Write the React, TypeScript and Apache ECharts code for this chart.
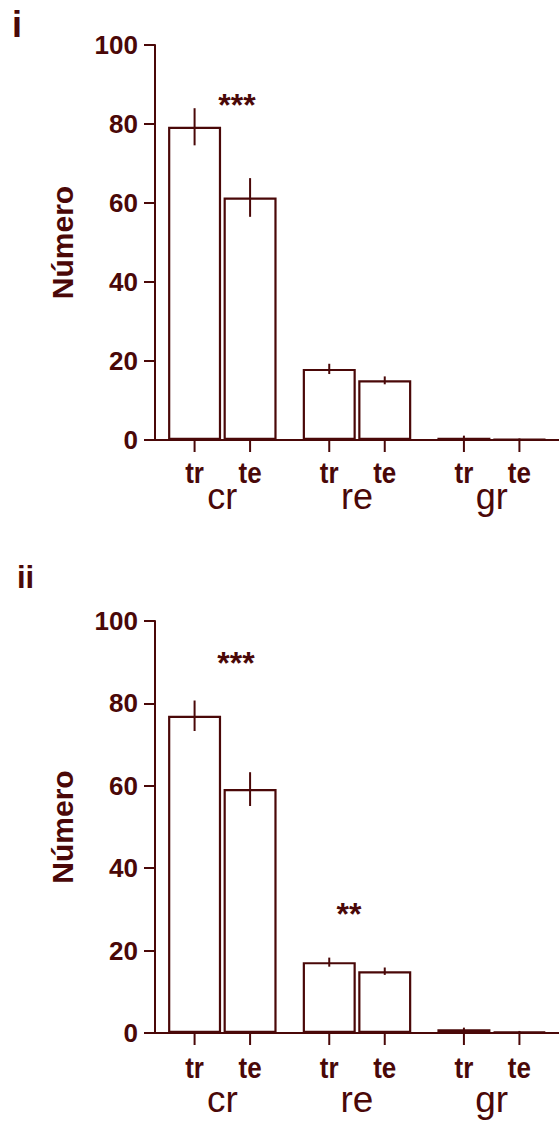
import React, { useEffect, useRef } from "react";
import * as echarts from "echarts";

// Groups along the x axis and the two bars inside each group
const categories = ["cr", "re", "gr"];
const subLabels = ["tr", "te"];
const yTicks = { min: 0, max: 100, interval: 20 };

// Panel i
const iTr = [79.3, 18.0, 0.6];
const iTe = [61.4, 15.1, 0.2];
const iTrErr = [4.7, 1.3, 0.5];
const iTeErr = [4.9, 1.0, 0.2];

// Panel ii
const iiTr = [77.0, 17.2, 0.9];
const iiTe = [59.2, 15.0, 0.3];
const iiTrErr = [3.7, 1.1, 0.4];
const iiTeErr = [4.1, 0.9, 0.2];

const INK = "#4a0808";
const FONT = "Liberation Sans, Arial, Helvetica, sans-serif";
const BAR_W = 53;
const BAR_GAP_PX = 2.5;

type Panel = {
  top: number;
  height: number;
  tr: number[];
  te: number[];
  trErr: number[];
  teErr: number[];
  subOffset: number;
  groupMargin: number;
  groupFont: number;
};

const panels: Panel[] = [
  { top: 45, height: 395, tr: iTr, te: iTe, trErr: iTrErr, teErr: iTeErr, subOffset: 33, groupMargin: 56, groupFont: 36 },
  { top: 621, height: 412, tr: iiTr, te: iiTe, trErr: iiTrErr, teErr: iiTeErr, subOffset: 35, groupMargin: 66, groupFont: 37 },
];

function errorItems(vals: number[], errs: number[], sub: number) {
  return vals.map((v, i) => [i, v, errs[i], sub]);
}

export default function App() {
  const ref = useRef<HTMLDivElement>(null);

  useEffect(() => {
    if (!ref.current) return;
    const chart = echarts.init(ref.current, null, { renderer: "svg" });

    const grid: any[] = [];
    const xAxis: any[] = [];
    const yAxis: any[] = [];
    const series: any[] = [];

    panels.forEach((p, k) => {
      grid.push({ left: 155, top: p.top, width: 407, height: p.height, containLabel: false });
      xAxis.push({
        type: "category",
        gridIndex: k,
        data: categories,
        axisLine: { show: true, lineStyle: { color: INK, width: 2 } },
        axisTick: { show: false },
        axisLabel: {
          color: INK,
          fontFamily: FONT,
          fontSize: p.groupFont,
          margin: p.groupMargin,
          verticalAlign: "middle",
        },
        splitLine: { show: false },
      });
      yAxis.push({
        type: "value",
        gridIndex: k,
        min: yTicks.min,
        max: yTicks.max,
        interval: yTicks.interval,
        name: "Número",
        nameLocation: "middle",
        nameRotate: 90,
        nameGap: 78,
        nameTextStyle: { color: INK, fontFamily: FONT, fontSize: 30, fontWeight: "bold" },
        axisLine: { show: true, lineStyle: { color: INK, width: 2 } },
        axisTick: { show: true, length: 11, lineStyle: { color: INK, width: 2 } },
        axisLabel: { color: INK, fontFamily: FONT, fontSize: 26, fontWeight: "bold", margin: 17 },
        splitLine: { show: false },
      });

      const barStyle = { color: "#ffffff", borderColor: INK, borderWidth: 2.2 };
      series.push({
        type: "bar",
        name: "tr",
        xAxisIndex: k,
        yAxisIndex: k,
        data: p.tr,
        barWidth: BAR_W,
        barGap: `${(BAR_GAP_PX / BAR_W) * 100}%`,
        itemStyle: barStyle,
        silent: true,
      });
      series.push({
        type: "bar",
        name: "te",
        xAxisIndex: k,
        yAxisIndex: k,
        data: p.te,
        barWidth: BAR_W,
        barGap: `${(BAR_GAP_PX / BAR_W) * 100}%`,
        itemStyle: barStyle,
        silent: true,
      });

      // Error bars, x-axis ticks and tr/te labels under each bar
      series.push({
        type: "custom",
        xAxisIndex: k,
        yAxisIndex: k,
        clip: false,
        z: 5,
        silent: true,
        data: [...errorItems(p.tr, p.trErr, 0), ...errorItems(p.te, p.teErr, 1)],
        renderItem: (_params: any, api: any) => {
          const ci = api.value(0);
          const v = api.value(1);
          const e = api.value(2);
          const s = api.value(3);
          const off = (s === 0 ? -1 : 1) * (BAR_W + BAR_GAP_PX) / 2;
          const hi = api.coord([ci, v + e]);
          const lo = api.coord([ci, Math.max(v - e, 0)]);
          const base = api.coord([ci, 0]);
          const x = hi[0] + off;
          return {
            type: "group",
            children: [
              {
                type: "line",
                shape: { x1: x, y1: hi[1], x2: x, y2: lo[1] },
                style: { stroke: INK, lineWidth: 2 },
              },
              {
                type: "line",
                shape: { x1: x, y1: base[1], x2: x, y2: base[1] + 12 },
                style: { stroke: INK, lineWidth: 2 },
              },
              {
                type: "text",
                x: x,
                y: base[1] + p.subOffset,
                scaleY: 1.1,
                style: {
                  text: subLabels[s],
                  fill: INK,
                  font: `bold 26px ${FONT}`,
                  align: "center",
                  verticalAlign: "middle",
                },
              },
            ],
          };
        },
      });
    });

    const label = (text: string, x: number, y: number, size: number) => ({
      type: "text",
      x,
      y,
      style: {
        text,
        fill: INK,
        font: `bold ${size}px ${FONT}`,
        align: "center",
        verticalAlign: "middle",
      },
    });

    chart.setOption({
      animation: false,
      backgroundColor: "#ffffff",
      grid,
      xAxis,
      yAxis,
      series,
      graphic: [
        label("i", 17, 24, 36),
        label("ii", 25.5, 577, 31),
        label("***", 237, 105, 32),
        label("***", 236, 663, 32),
        label("**", 349, 914, 32),
      ],
    });

    return () => chart.dispose();
  }, []);

  return (
    <div
      ref={ref}
      style={{ position: "absolute", left: 0, top: 0, width: 559, height: 1121 }}
    />
  );
}
